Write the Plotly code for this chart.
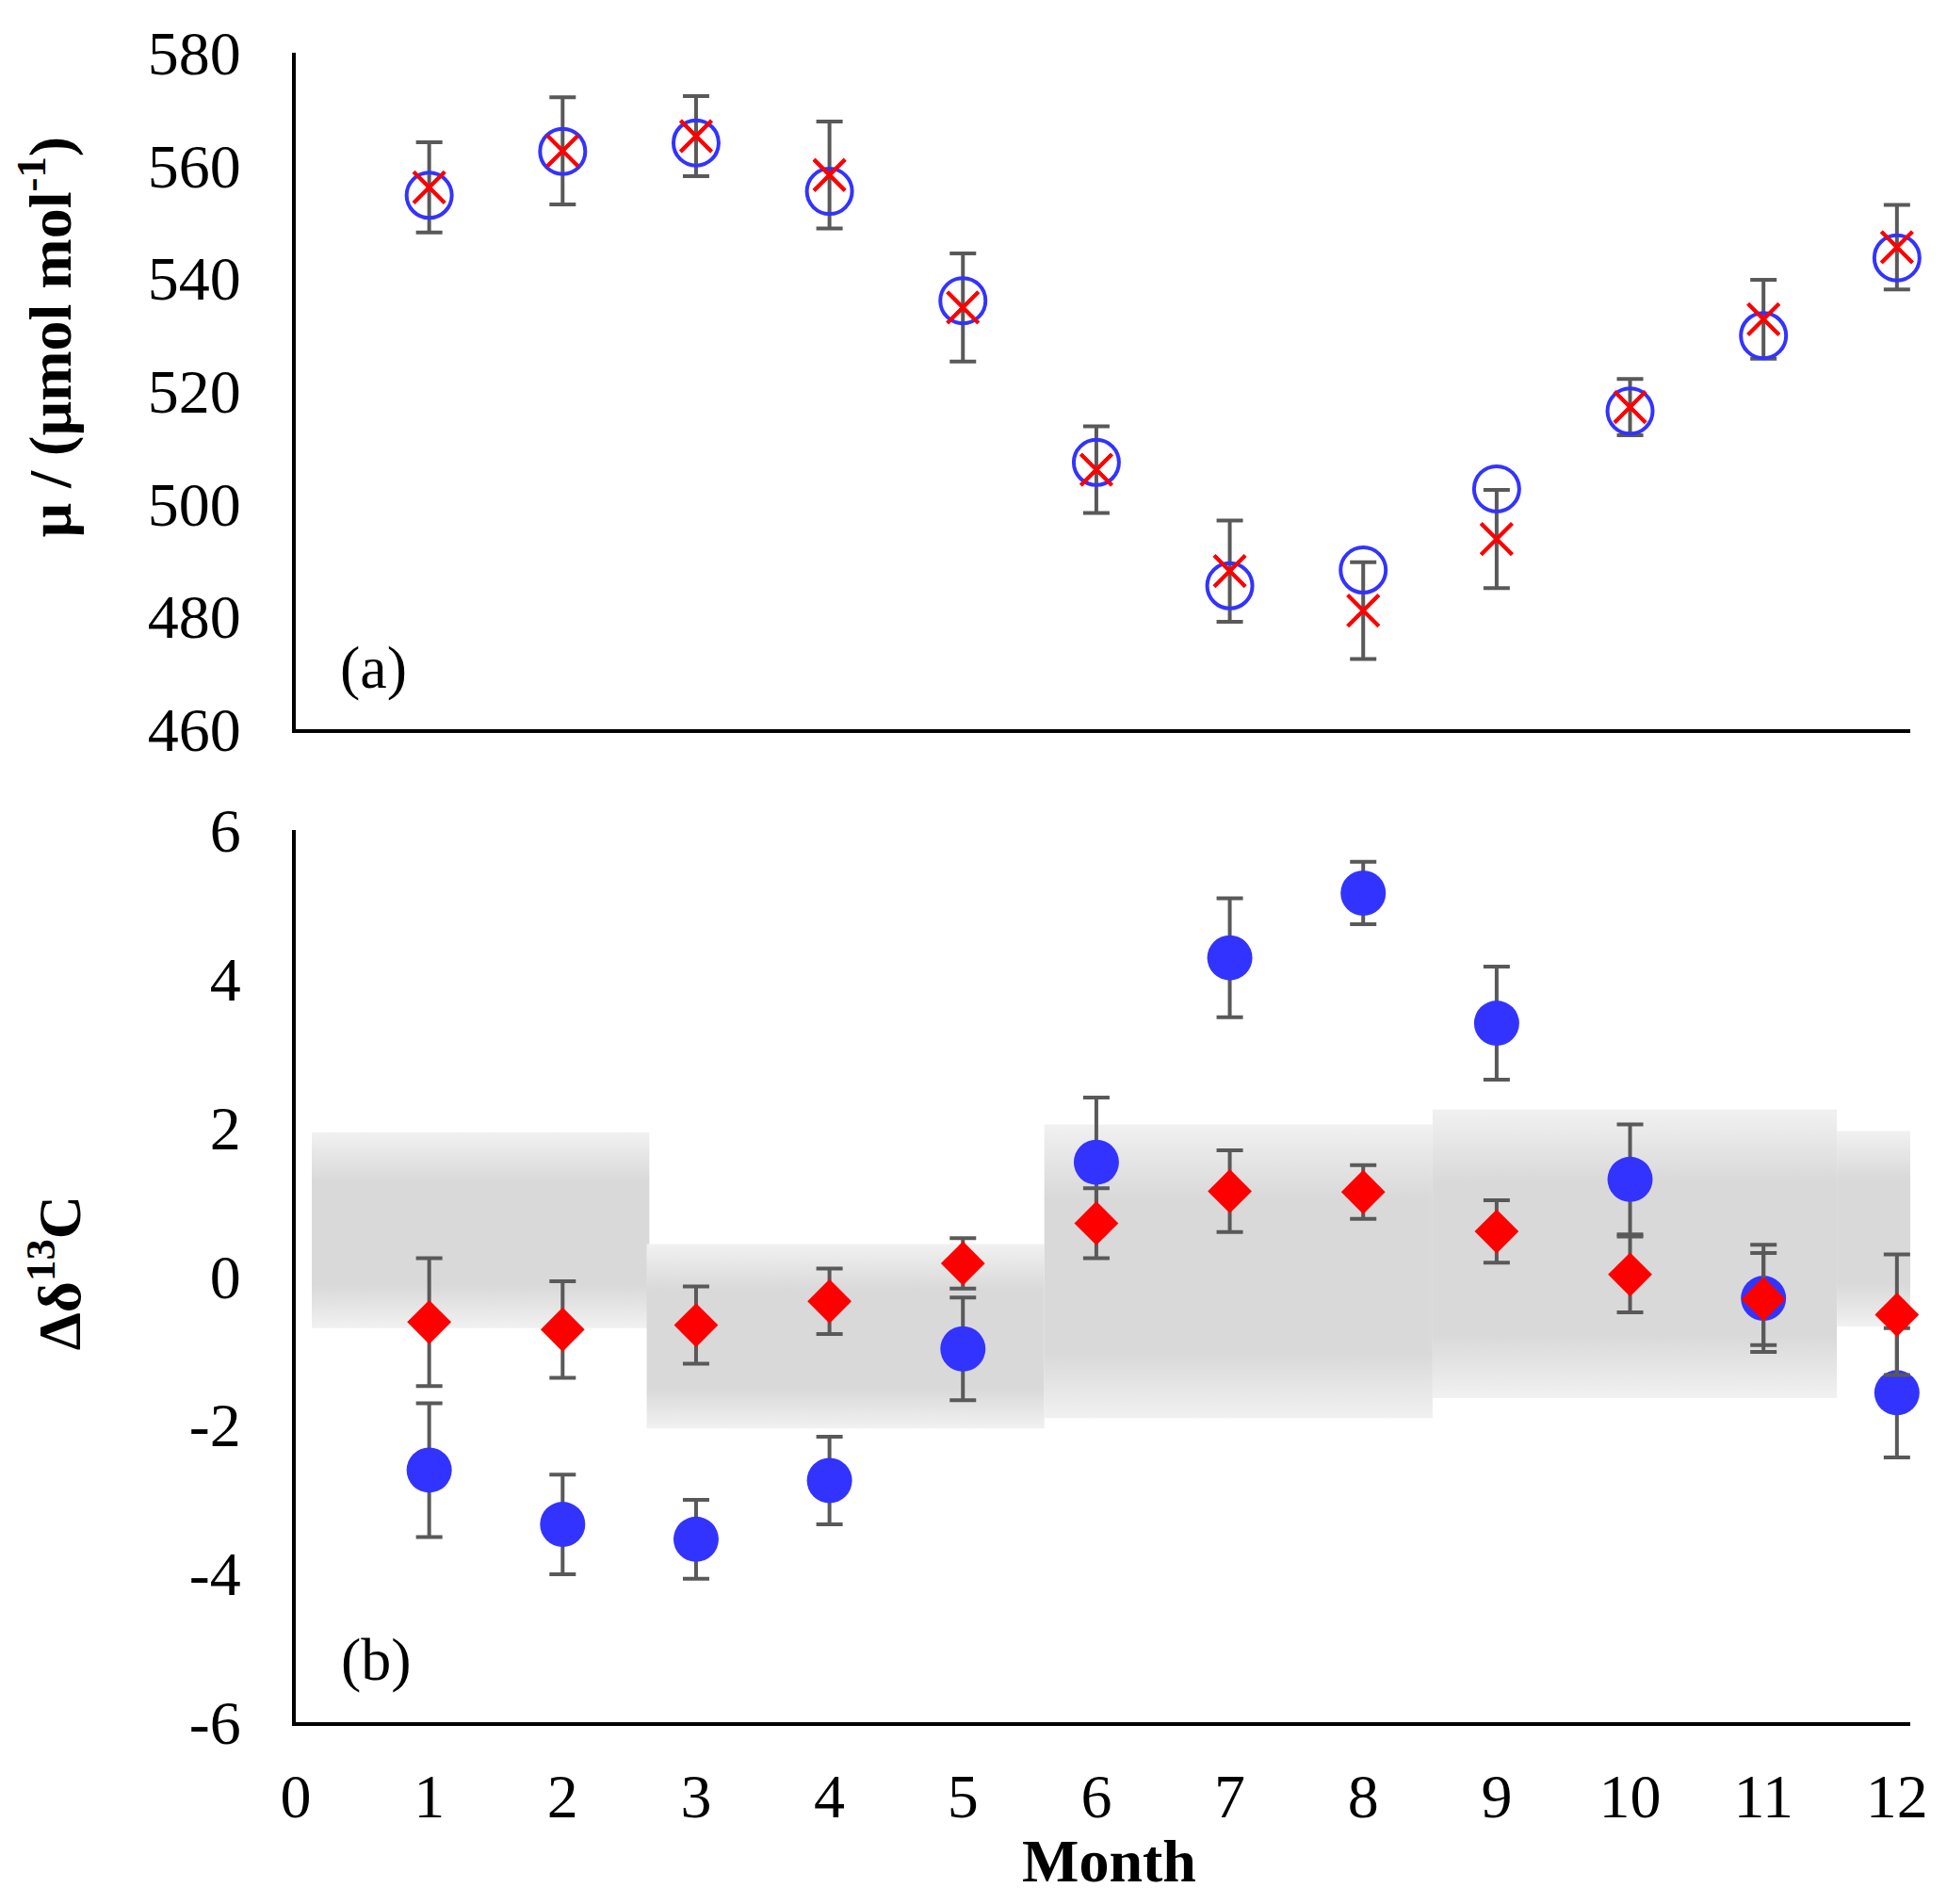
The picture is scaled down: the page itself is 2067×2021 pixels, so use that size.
import plotly.graph_objects as go

# Месяцы
months = [1, 2, 3, 4, 5, 6, 7, 8, 9, 10, 11, 12]

# Панель (a): μ / (μmol mol-1)
mu_circle = [554.7, 562.5, 564.0, 555.4, 536.0, 507.3, 485.4, 488.2, 502.6, 516.4, 529.8, 543.6]
mu_cross = [556.1, 562.6, 565.2, 558.3, 534.8, 506.0, 488.0, 481.0, 493.7, 517.1, 532.7, 545.5]
mu_cross_err = [8.0, 9.5, 7.1, 9.5, 9.6, 7.7, 9.0, 8.6, 8.7, 5.0, 7.0, 7.5]

# Панель (b): Δδ13C
d13c_blue = [-2.61, -3.34, -3.54, -2.75, -0.98, 1.53, 4.28, 5.15, 3.40, 1.30, -0.30, -1.57]
d13c_blue_err = [0.90, 0.67, 0.53, 0.59, 0.69, 0.87, 0.80, 0.42, 0.76, 0.74, 0.72, 0.87]
d13c_red = [-0.62, -0.72, -0.66, -0.34, 0.17, 0.71, 1.14, 1.13, 0.60, 0.02, -0.31, -0.52]
d13c_red_err = [0.86, 0.65, 0.52, 0.44, 0.34, 0.47, 0.55, 0.36, 0.42, 0.51, 0.62, 0.81]

# Сезонные серые полосы (DJF, MAM, JJA, SON, DJF)
band_x0 = [0.12, 2.63, 5.61, 8.52, 11.55]
band_x1 = [2.65, 5.61, 8.52, 11.55, 12.10]
band_low = [-0.70, -2.05, -1.91, -1.64, -0.68]
band_high = [1.93, 0.43, 2.04, 2.24, 1.95]

# Подписи осей (с обычным дефисом, как в оригинале)
y_ticks_a = [460, 480, 500, 520, 540, 560, 580]
y_ticks_b = [-6, -4, -2, 0, 2, 4, 6]
y_labels_b = ['-6', '-4', '-2', '0', '2', '4', '6']
x_ticks = list(range(0, 13))

FONT = "Liberation Serif"
ERR_COLOR = "#595959"
BLUE = "#3333ff"
RED = "#ff0000"

fig = go.Figure()

# Серые полосы с вертикальным градиентом
for x0, x1, lo, hi in zip(band_x0, band_x1, band_low, band_high):
    fig.add_trace(go.Scatter(
        x=[x0, x1, x1, x0, x0],
        y=[lo, lo, hi, hi, lo],
        mode='lines',
        line=dict(width=0),
        fill='toself',
        fillgradient=dict(
            type='vertical',
            colorscale=[[0, '#f1f1f1'], [0.22, '#d9d9d9'], [0.75, '#d9d9d9'], [1, '#f1f1f1']]
        ),
        hoverinfo='skip',
        showlegend=False,
        xaxis='x2', yaxis='y2'
    ))

# Панель (a)
fig.add_trace(go.Scatter(
    x=months, y=mu_cross,
    mode='markers',
    marker=dict(symbol='x-thin-open', size=33, color=RED, line=dict(width=4, color=RED)),
    error_y=dict(type='data', array=mu_cross_err, color=ERR_COLOR, thickness=4, width=14),
    cliponaxis=False,
    showlegend=False,
    xaxis='x', yaxis='y'
))
fig.add_trace(go.Scatter(
    x=months, y=mu_circle,
    mode='markers',
    marker=dict(symbol='circle-open', size=48, color=BLUE, line=dict(width=4, color=BLUE)),
    cliponaxis=False,
    showlegend=False,
    xaxis='x', yaxis='y'
))
# крест поверх кружка
fig.add_trace(go.Scatter(
    x=months, y=mu_cross,
    mode='markers',
    marker=dict(symbol='x-thin-open', size=33, color=RED, line=dict(width=4, color=RED)),
    cliponaxis=False,
    showlegend=False,
    xaxis='x', yaxis='y'
))

# Панель (b)
fig.add_trace(go.Scatter(
    x=months, y=d13c_blue,
    mode='markers',
    marker=dict(symbol='circle', size=48, color=BLUE),
    error_y=dict(type='data', array=d13c_blue_err, color=ERR_COLOR, thickness=4, width=14),
    cliponaxis=False,
    showlegend=False,
    xaxis='x2', yaxis='y2'
))
fig.add_trace(go.Scatter(
    x=months, y=d13c_red,
    mode='markers',
    marker=dict(symbol='diamond', size=36, color=RED),
    error_y=dict(type='data', array=d13c_red_err, color=ERR_COLOR, thickness=4, width=14),
    cliponaxis=False,
    showlegend=False,
    xaxis='x2', yaxis='y2'
))

axis_common = dict(
    showline=True, linecolor='black', linewidth=4,
    showgrid=False, zeroline=False, ticks='',
    tickfont=dict(family=FONT, size=66, color='black')
)

# страница добавляет отступ 8px, поэтому фигура чуть меньше окна
fig.update_layout(
    width=2051, height=2005,
    margin=dict(l=306, r=24, t=35, b=185),
    plot_bgcolor='white', paper_bgcolor='white',
    xaxis=dict(axis_common, domain=[0, 1], range=[0, 12.1], anchor='y',
               showticklabels=False),
    yaxis=dict(axis_common, domain=[0.595, 1], range=[460, 580], anchor='x',
               tickvals=y_ticks_a, ticklabelstandoff=41),
    xaxis2=dict(axis_common, domain=[0, 1], range=[0, 12.1], anchor='y2',
                tickvals=x_ticks, ticklabelstandoff=18),
    yaxis2=dict(axis_common, domain=[0, 0.5345], range=[-6, 6], anchor='x2',
                tickvals=y_ticks_b, ticktext=y_labels_b, ticklabelstandoff=41),
    annotations=[
        dict(text='<b>µ / (µmol mol<sup>-1</sup>)</b>', textangle=-90,
             xref='paper', yref='paper', x=-0.155, y=0.830,
             xanchor='center', yanchor='middle', showarrow=False,
             font=dict(family=FONT, size=64, color='black')),
        dict(text='<b>Δδ<sup>13</sup>C</b>', textangle=-90,
             xref='paper', yref='paper', x=-0.149, y=0.2688,
             xanchor='center', yanchor='middle', showarrow=False,
             font=dict(family=FONT, size=64, color='black')),
        dict(text='<b>Month</b>', height=56,
             xref='paper', yref='paper', x=0.504, y=-0.083,
             xanchor='center', yanchor='middle', showarrow=False,
             font=dict(family=FONT, size=64, color='black')),
        dict(text='(a)',
             xref='paper', yref='paper', x=0.048, y=0.632,
             xanchor='center', yanchor='middle', showarrow=False,
             font=dict(family=FONT, size=64, color='black')),
        dict(text='(b)',
             xref='paper', yref='paper', x=0.050, y=0.0375,
             xanchor='center', yanchor='middle', showarrow=False,
             font=dict(family=FONT, size=64, color='black')),
    ]
)

fig.write_html("out.html")
